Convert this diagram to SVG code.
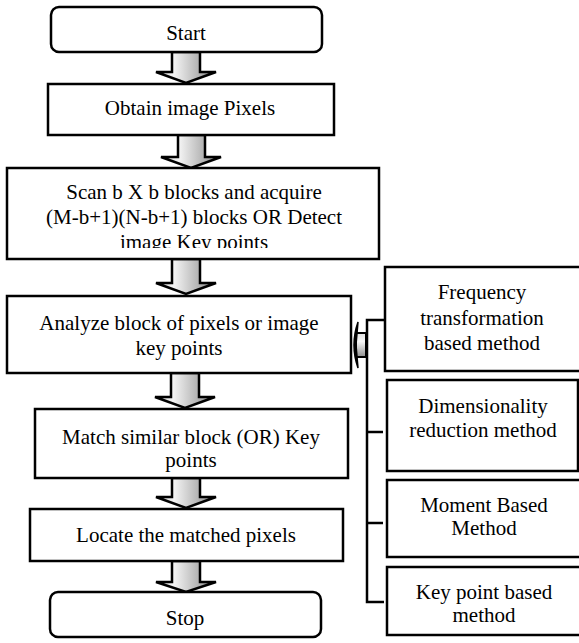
<svg xmlns="http://www.w3.org/2000/svg" width="579" height="643" viewBox="0 0 579 643">
<defs>
<linearGradient id="g" x1="0" y1="0" x2="1" y2="0">
<stop offset="0" stop-color="#d0d0d0"/>
<stop offset="0.3" stop-color="#f4f4f4"/>
<stop offset="1" stop-color="#858585"/>
</linearGradient>
<linearGradient id="gv" x1="0" y1="0" x2="0" y2="1">
<stop offset="0" stop-color="#e0e0e0"/>
<stop offset="0.35" stop-color="#f8f8f8"/>
<stop offset="1" stop-color="#8f8f8f"/>
</linearGradient>
<clipPath id="scanclip"><rect x="7" y="168" width="372" height="80"/></clipPath>
</defs>
<style>
.box{fill:#fff;stroke:#000;stroke-width:2.5}
.arr{fill:url(#g);stroke:#000;stroke-width:2.5;stroke-linejoin:miter}
.t{font-family:"Liberation Serif","Times New Roman",serif;font-size:21px;fill:#000;text-anchor:middle}
.ln{stroke:#000;stroke-width:2.5;fill:none}
</style>
<rect width="579" height="643" fill="#fff"/>

<g id="connectors">
<path class="arr" d="M172,52 L200,52 L200,72 L216,72 L186,83 L156,72 L172,72 Z"/>
<path class="arr" d="M178,135 L205,135 L205,157 L221,157 L191,168 L161,157 L178,157 Z"/>
<path class="arr" d="M172,259 L200,259 L200,283 L216,283 L186,294 L156,283 L172,283 Z"/>
<path class="arr" d="M171,373 L199,373 L199,397 L215,397 L185,408 L155,397 L171,397 Z"/>
<path class="arr" d="M172,478 L200,478 L200,497 L216,497 L186,508 L156,497 L172,497 Z"/>
<path class="arr" d="M172,561 L200,561 L200,582 L216,582 L186,592 L156,582 L172,582 Z"/>
<rect x="356" y="333" width="10" height="24" fill="url(#gv)" stroke="#000" stroke-width="2"/>
<path d="M358,322 Q350,345 358,368 L356,345 Z" fill="#000" stroke="#000" stroke-width="1.5"/>
<path class="ln" d="M385,320 L367,320 L367,602 L384,602"/>
<path class="ln" d="M367,432 L383,432"/>
<path class="ln" d="M367,523 L383,523"/>
</g>

<g id="start">
<rect class="box" x="51" y="7" width="271" height="45" rx="8"/>
<text class="t" x="186" y="40">Start</text>
</g>
<g id="obtain">
<rect class="box" x="48" y="84" width="286" height="51"/>
<text class="t" x="190" y="115">Obtain image Pixels</text>
</g>
<g id="scan">
<rect class="box" x="7" y="168" width="372" height="91"/>
<g clip-path="url(#scanclip)">
<text class="t" x="194" y="199">Scan b X b blocks and acquire</text>
<text class="t" x="194" y="224">(M-b+1)(N-b+1) blocks OR Detect</text>
<text class="t" x="194" y="249">image Key points</text>
</g>
</g>
<g id="analyze">
<rect class="box" x="7" y="296" width="344" height="77"/>
<text class="t" x="179" y="330">Analyze block of pixels or image</text>
<text class="t" x="179" y="355">key points</text>
</g>
<g id="match">
<rect class="box" x="35" y="409" width="313" height="69"/>
<text class="t" x="191" y="444">Match similar block (OR) Key</text>
<text class="t" x="191" y="467">points</text>
</g>
<g id="locate">
<rect class="box" x="30" y="509" width="313" height="52"/>
<text class="t" x="186" y="542">Locate the matched pixels</text>
</g>
<g id="stop">
<rect class="box" x="50" y="592" width="271" height="45" rx="8"/>
<text class="t" x="185" y="625">Stop</text>
</g>

<g id="freq">
<rect class="box" x="385" y="267" width="200" height="104"/>
<text class="t" x="482" y="299">Frequency</text>
<text class="t" x="482" y="325">transformation</text>
<text class="t" x="482" y="350">based method</text>
</g>
<g id="dim">
<rect class="box" x="387" y="380" width="191" height="91"/>
<text class="t" x="483" y="413">Dimensionality</text>
<text class="t" x="483" y="437">reduction method</text>
</g>
<g id="moment">
<rect class="box" x="387" y="480" width="200" height="77"/>
<text class="t" x="484" y="512">Moment Based</text>
<text class="t" x="484" y="535">Method</text>
</g>
<g id="keypoint">
<rect class="box" x="387" y="567" width="200" height="68"/>
<text class="t" x="484" y="599">Key point based</text>
<text class="t" x="484" y="622">method</text>
</g>
</svg>
